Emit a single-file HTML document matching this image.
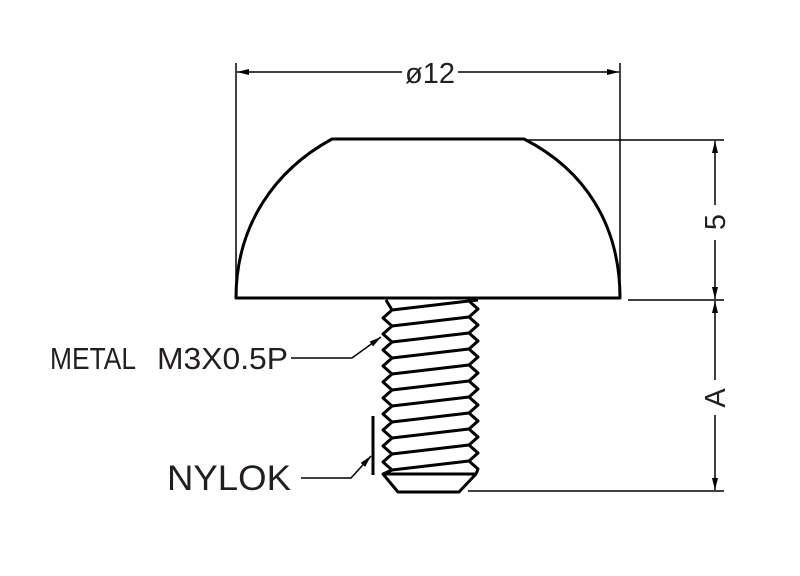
<!DOCTYPE html>
<html><head><meta charset="utf-8"><style>
html,body{margin:0;padding:0;background:#fff}
svg{display:block}
text{font-family:"Liberation Sans",sans-serif;fill:#231f20}
</style></head><body>
<svg width="800" height="576" viewBox="0 0 800 576" xmlns="http://www.w3.org/2000/svg">
<defs>
<marker id="a" viewBox="0 0 12 6" refX="12" refY="3" markerWidth="12" markerHeight="6" markerUnits="userSpaceOnUse" orient="auto-start-reverse">
<path d="M0,0 L12,3 L0,6 Z" fill="#000"/></marker>
</defs>
<g stroke="#000" fill="none" stroke-width="1.5">
<line x1="236" y1="63" x2="236" y2="296"/>
<line x1="620" y1="63" x2="620" y2="296"/>
<line x1="237" y1="72" x2="402" y2="72" marker-start="url(#a)"/>
<line x1="458" y1="72" x2="619" y2="72" marker-end="url(#a)"/>
<line x1="524" y1="140" x2="724" y2="140"/>
<line x1="628" y1="300" x2="724" y2="300"/>
<line x1="468" y1="491" x2="724" y2="491"/>
<line x1="715" y1="141" x2="715" y2="205" marker-start="url(#a)"/>
<line x1="715" y1="240" x2="715" y2="299" marker-end="url(#a)"/>
<line x1="715" y1="301" x2="715" y2="380" marker-start="url(#a)"/>
<line x1="715" y1="415" x2="715" y2="490" marker-end="url(#a)"/>
<polyline points="291,358 352,358 381,337" marker-end="url(#a)"/>
<polyline points="301,478 351,478 371,456" marker-end="url(#a)"/>
</g>
<line x1="373" y1="416" x2="373" y2="475" stroke="#000" stroke-width="3"/>
<path d="M236,298 C236,225 275,170 332,139 L524,139 C585,170 620,225 620,298 Z" fill="#fff" stroke="#000" stroke-width="3" stroke-linejoin="round"/>
<g stroke="#000" stroke-width="3" fill="none" stroke-linejoin="round">
<polyline points="386,300 392,310 383,318 392,326 383,334 392,342 383,350 392,358 383,366 392,374 383,382 392,390 383,398 392,406 383,414 392,422 383,430 392,438 383,446 392,454 383,462 392,470 383,474"/>
<polyline points="478,300 469,301 478,309 469,317 478,325 469,333 478,341 469,349 478,357 469,365 478,373 469,381 478,389 469,397 478,405 469,413 478,421 469,429 478,437 469,445 478,453 469,461 478,469 476,474"/>
<line x1="392" y1="310" x2="469" y2="301"/>
<line x1="392" y1="326" x2="469" y2="317"/>
<line x1="392" y1="342" x2="469" y2="333"/>
<line x1="392" y1="358" x2="469" y2="349"/>
<line x1="392" y1="374" x2="469" y2="365"/>
<line x1="392" y1="390" x2="469" y2="381"/>
<line x1="392" y1="406" x2="469" y2="397"/>
<line x1="392" y1="422" x2="469" y2="413"/>
<line x1="392" y1="438" x2="469" y2="429"/>
<line x1="392" y1="454" x2="469" y2="445"/>
<line x1="392" y1="470" x2="469" y2="461"/>
<path d="M383,474 L476,474 L459,492 L398,492 Z"/>
</g>
<text x="430" y="83" font-size="29" text-anchor="middle">ø12</text>
<text x="50" y="369" font-size="31" textLength="86" lengthAdjust="spacingAndGlyphs">METAL</text>
<text x="157" y="369" font-size="31" textLength="131" lengthAdjust="spacingAndGlyphs">M3X0.5P</text>
<text x="167" y="490" font-size="35" textLength="124" lengthAdjust="spacingAndGlyphs">NYLOK</text>
<text transform="translate(725,222) rotate(-90)" font-size="29" text-anchor="middle">5</text>
<text transform="translate(725,398) rotate(-90)" font-size="29" text-anchor="middle">A</text>
</svg>
</body></html>
